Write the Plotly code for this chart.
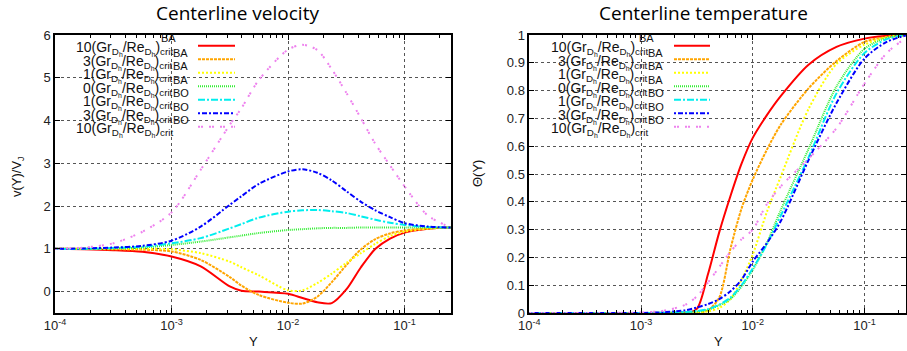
import math
import plotly.graph_objects as go

# ---------------- data ----------------
Y_vel = [1e-4, 1.78e-4, 3.16e-4, 5.62e-4, 1e-3, 1.78e-3, 3.16e-3, 3.98e-3, 5.62e-3, 1e-2,
         1.33e-2, 1.78e-2, 2.37e-2, 3.16e-2, 4.22e-2, 5.62e-2, 7.5e-2, 0.1, 0.158, 0.25]
v_red    = [1.0, 0.99, 0.97, 0.93, 0.82, 0.59, 0.12, 0.02, 0.0, -0.05, -0.15, -0.25, -0.27, 0.05, 0.57, 1.0, 1.24, 1.38, 1.47, 1.5]
v_orange = [1.0, 1.0, 0.99, 0.98, 0.94, 0.74, 0.34, 0.14, -0.08, -0.26, -0.28, -0.12, 0.22, 0.62, 0.99, 1.23, 1.36, 1.43, 1.48, 1.5]
v_yellow = [1.0, 1.0, 1.0, 1.0, 0.99, 0.9, 0.7, 0.57, 0.38, 0.03, 0.03, 0.2, 0.42, 0.67, 0.9, 1.12, 1.3, 1.4, 1.47, 1.5]
v_green  = [1.0, 1.0, 1.01, 1.03, 1.09, 1.17, 1.27, 1.31, 1.37, 1.44, 1.46, 1.48, 1.49, 1.49, 1.5, 1.5, 1.5, 1.5, 1.5, 1.5]
v_cyan   = [1.0, 1.0, 1.02, 1.05, 1.13, 1.25, 1.48, 1.58, 1.73, 1.87, 1.9, 1.91, 1.88, 1.84, 1.76, 1.68, 1.61, 1.56, 1.51, 1.5]
v_blue   = [1.0, 1.01, 1.03, 1.07, 1.19, 1.52, 2.03, 2.23, 2.52, 2.81, 2.86, 2.78, 2.6, 2.35, 2.1, 1.9, 1.74, 1.6, 1.52, 1.5]
v_violet = [1.0, 1.03, 1.13, 1.4, 1.85, 2.85, 3.9, 4.29, 4.95, 5.66, 5.77, 5.65, 5.2, 4.65, 4.05, 3.45, 2.95, 2.46, 1.78, 1.5]

Y_temp = [1e-4, 3.16e-4, 1e-3, 1.58e-3, 2.51e-3, 3.16e-3, 3.98e-3, 5.01e-3, 6.31e-3, 7.94e-3,
          1e-2, 1.33e-2, 1.78e-2, 3.16e-2, 5.62e-2, 0.1, 0.158, 0.235]
t_red    = [0, 0, 0, 0, 0, 0.015, 0.14, 0.29, 0.42, 0.537, 0.63, 0.71, 0.78, 0.893, 0.957, 0.987, 0.997, 1.0]
t_orange = [0, 0, 0, 0, 0, 0.0, 0.01, 0.055, 0.23, 0.376, 0.48, 0.585, 0.677, 0.808, 0.906, 0.975, 0.993, 1.0]
t_yellow = [0, 0, 0, 0, 0.001, 0.003, 0.006, 0.018, 0.05, 0.12, 0.21, 0.36, 0.49, 0.734, 0.896, 0.965, 0.992, 1.0]
t_green  = [0, 0, 0, 0.001, 0.003, 0.005, 0.012, 0.028, 0.05, 0.095, 0.155, 0.25, 0.37, 0.59, 0.815, 0.95, 0.99, 1.0]
t_cyan   = [0, 0, 0, 0.001, 0.004, 0.007, 0.014, 0.03, 0.055, 0.1, 0.16, 0.245, 0.35, 0.56, 0.79, 0.935, 0.985, 1.0]
t_blue   = [0, 0, 0, 0.003, 0.01, 0.02, 0.032, 0.05, 0.078, 0.12, 0.185, 0.25, 0.33, 0.55, 0.755, 0.915, 0.975, 0.998]
t_violet = [0, 0, 0.002, 0.008, 0.03, 0.06, 0.11, 0.165, 0.22, 0.265, 0.3, 0.39, 0.455, 0.555, 0.665, 0.825, 0.935, 0.99]

legend_prefix = ["10", "3", "1", "0", "1", "3", "10"]
legend_suffix = ["BA", "BA", "BA", "BO", "BO", "BO", ""]
x_ticks = [1e-4, 1e-3, 1e-2, 1e-1]
x_ticktext = ["10<sup>-4</sup>", "10<sup>-3</sup>", "10<sup>-2</sup>", "10<sup>-1</sup>"]
v_ticks = [0, 1, 2, 3, 4, 5, 6]
t_ticks = [0, 0.1, 0.2, 0.3, 0.4, 0.5, 0.6, 0.7, 0.8, 0.9, 1]
t_ticktext = ["0", "0.1", "0.2", "0.3", "0.4", "0.5", "0.6", "0.7", "0.8", "0.9", "1"]

vel_series = [v_red, v_orange, v_yellow, v_green, v_cyan, v_blue, v_violet]
temp_series = [t_red, t_orange, t_yellow, t_green, t_cyan, t_blue, t_violet]

# ---------------- styles ----------------
colors = ["#ff0000", "#ffa500", "#ffff00", "#33ee33", "#00eeee", "#0000ff", "#ee82ee"]
dashes = ["solid", "3px,1px", "2px,2px", "1px,1px", "7px,2px,2px,2px", "2px,2px,5px,2px", "2px,1px,2px,6px"]
widths = [2, 2, 2, 2, 2, 2, 2]

W, H = 907, 351
ML, MR, MT, MB = 55, 0, 35, 38
PW, PH = W - ML - MR, H - MT - MB


def PX(px):
    return (px - ML) / PW


def PY(py):
    return (H - MB - py) / PH


dom1 = [0, PX(451)]
dom2 = [PX(529.3), PX(906)]

fig = go.Figure()
for vals, c, d, w in zip(vel_series, colors, dashes, widths):
    fig.add_trace(go.Scatter(x=Y_vel, y=vals, xaxis="x", yaxis="y", mode="lines",
                             line=dict(color=c, dash=d, width=w, shape="spline", smoothing=0.8),
                             showlegend=False, hoverinfo="skip"))
for vals, c, d, w in zip(temp_series, colors, dashes, widths):
    fig.add_trace(go.Scatter(x=Y_temp, y=vals, xaxis="x2", yaxis="y2", mode="lines",
                             line=dict(color=c, dash=d, width=w, shape="spline", smoothing=0.8),
                             showlegend=False, hoverinfo="skip"))

minor_vals = [m * 10 ** e for e in range(-4, 0) for m in range(2, 10)]
tickfont = dict(family="Liberation Sans, Arial", size=13, color="#222")

common_x = dict(type="log", tickvals=x_ticks, ticktext=x_ticktext, ticks="inside", ticklen=5,
                tickcolor="black", showline=True, linecolor="black", linewidth=1.5, mirror="ticks",
                showgrid=True, gridcolor="#555", griddash="dot", gridwidth=1, zeroline=False,
                tickfont=tickfont,
                minor=dict(tickvals=minor_vals, ticks="inside", ticklen=3, tickcolor="black", showgrid=False))
common_y = dict(ticks="inside", ticklen=5, tickcolor="black", showline=True, linecolor="black",
                linewidth=1.5, mirror="ticks", showgrid=True, gridcolor="#555", griddash="dot",
                gridwidth=1, zeroline=False, tickfont=tickfont)

fig.update_layout(
    width=W, height=H, margin=dict(l=ML, r=MR, t=MT, b=MB),
    paper_bgcolor="white", plot_bgcolor="white",
    xaxis=dict(domain=dom1, range=[-4, math.log10(0.25)], anchor="y", **common_x),
    yaxis=dict(domain=[0, 1], range=[-0.5, 6], tickvals=v_ticks, anchor="x", **common_y),
    xaxis2=dict(domain=dom2, range=[-4, math.log10(0.2355)], anchor="y2", **common_x),
    yaxis2=dict(domain=[0, 1], range=[0, 1], tickvals=t_ticks, ticktext=t_ticktext, anchor="x2", **common_y),
)

shapes = []
annotations = []
font_txt = dict(family="Liberation Sans, Arial", size=14, color="#111")
label_main = "(Gr<sub>D<sub>h</sub></sub>/Re<sub>D<sub>h</sub></sub>)<sub>crit</sub>"
for (key_left, text_end, line_x0, line_x1, top_ba) in [
        (55, 175, 198, 235, 168),
        (529.3, 650, 674, 710, 646)]:
    # key box hiding the grid
    shapes.append(dict(type="rect", xref="paper", yref="paper",
                       x0=PX(key_left + 1), x1=PX(key_left + 188), y0=PY(136), y1=PY(36),
                       fillcolor="white", line=dict(width=0), layer="between"))
    annotations.append(dict(x=PX(top_ba), y=PY(38), xref="paper", yref="paper", text="BA",
                            showarrow=False, font=dict(font_txt, size=11), xanchor="center", yanchor="middle"))
    for i in range(7):
        ry = 45.7 + 13.5 * i
        shapes.append(dict(type="line", xref="paper", yref="paper", x0=PX(line_x0), x1=PX(line_x1),
                           y0=PY(ry), y1=PY(ry), line=dict(color=colors[i], dash=dashes[i], width=2),
                           layer="above"))
        annotations.append(dict(x=PX(text_end), y=PY(ry + 3), xref="paper", yref="paper",
                                text=legend_prefix[i] + label_main, showarrow=False, font=font_txt,
                                xanchor="right", yanchor="middle"))
        if legend_suffix[i]:
            annotations.append(dict(x=PX(text_end - 4), y=PY(ry + 7), xref="paper", yref="paper",
                                    text=legend_suffix[i], showarrow=False, font=dict(font_txt, size=11),
                                    xanchor="left", yanchor="middle"))

title_font = dict(family="Open Sans, DejaVu Sans", size=19, color="black")
annotations += [
    dict(x=PX(237), y=PY(13), xref="paper", yref="paper", text="Centerline velocity",
         showarrow=False, font=title_font, xanchor="center", yanchor="middle"),
    dict(x=PX(703), y=PY(13), xref="paper", yref="paper", text="Centerline temperature",
         showarrow=False, font=title_font, xanchor="center", yanchor="middle"),
    dict(x=PX(18), y=PY(177), xref="paper", yref="paper", text="v(Y)/V<sub>J</sub>", textangle=-90,
         showarrow=False, font=dict(font_txt, size=13), xanchor="center", yanchor="middle"),
    dict(x=PX(477), y=PY(174), xref="paper", yref="paper", text="Θ(Y)", textangle=-90,
         showarrow=False, font=dict(font_txt, size=13), xanchor="center", yanchor="middle"),
    dict(x=PX(253), y=PY(351), xref="paper", yref="paper", text="Y",
         showarrow=False, font=dict(font_txt, size=13), xanchor="center", yanchor="bottom"),
    dict(x=PX(718), y=PY(351), xref="paper", yref="paper", text="Y",
         showarrow=False, font=dict(font_txt, size=13), xanchor="center", yanchor="bottom"),
]
fig.update_layout(shapes=shapes, annotations=annotations)
fig.write_html("out.html", config={"displayModeBar": False},
               post_script="document.body.style.margin='0';document.body.style.overflow='hidden';")
